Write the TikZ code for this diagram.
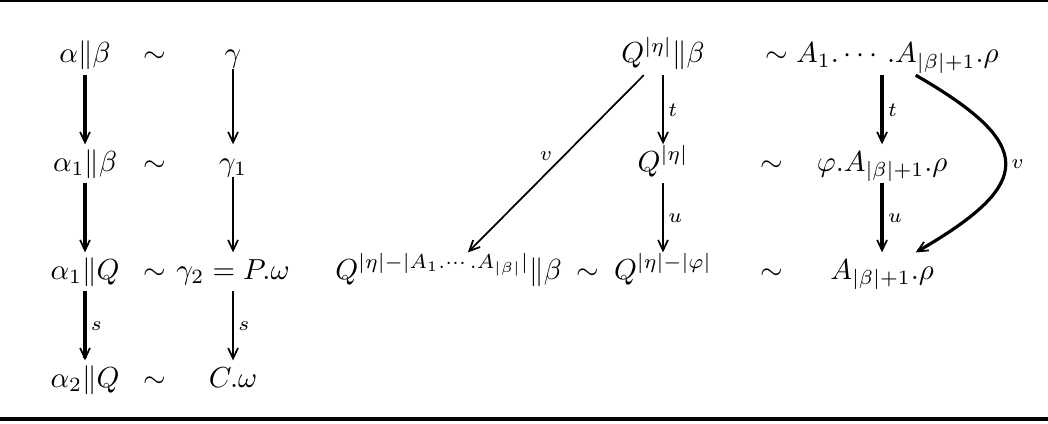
\documentclass[tikz,border=0pt]{standalone}
\usepackage{amsmath,amssymb}
\usepackage{tikz}
\usetikzlibrary{arrows.meta,positioning}

\begin{document}
\begin{tikzpicture}[>={Straight Barb[length=3.6pt,width=3.4pt,line width=0.6pt]},node distance=13.1mm,on grid,
  cell/.style={inner sep=1.5pt,text height=7.5pt,text depth=2.5pt},
  arr/.style={->,line width=0.6pt},
  heavy/.style={->,line width=1.1pt},
  lab/.style={font=\scriptsize,inner sep=1.5pt}]
  \useasboundingbox (0,0) rectangle (127.08mm,-51.41mm);
  % rules
  \draw[line width=0.7pt] (0,-0.12mm) -- (127.08mm,-0.12mm);
  \draw[line width=1.4pt] (0,-50.81mm) -- (127.08mm,-50.81mm);
  % left block
  \node[cell] (a1) at (10.31mm,-6.76mm) {$\alpha\|\beta$};
  \node[cell,right=8.49mm of a1] (s1) {$\sim$};
  \node[cell,right=9.46mm of s1] (g1) {$\gamma$};
  \node[cell,below=of a1] (a2) {$\alpha_1\|\beta$};
  \node[cell,below=of s1] (s2) {$\sim$};
  \node[cell,below=of g1] (g2) {$\gamma_1$};
  \node[cell,below=of a2] (a3) {$\alpha_1\|Q$};
  \node[cell,below=of s2] (s3) {$\sim$};
  \node[cell,below=of g2] (g3) {$\gamma_2 = P.\omega$};
  \node[cell,below=of a3] (a4) {$\alpha_2\|Q$};
  \node[cell,below=of s3] (s4) {$\sim$};
  \node[cell,below=of g3] (g4) {$C.\omega$};
  \draw[heavy] (a1) -- (a2);
  \draw[heavy] (a2) -- (a3);
  \draw[heavy] (a3) -- node[lab,right]{$s$} (a4);
  \draw[arr,shorten <=-2pt] (g1) -- (g2);
  \draw[arr,shorten <=-2pt] (g2) -- (g3);
  \draw[arr] (g3) -- node[lab,right]{$s$} (g4);
  % right block
  \node[cell,right=52.14mm of g1] (q1) {$Q^{|\eta|}\|\beta$};
  \node[cell,right=26.56mm of q1] (e1) {$\sim A_1.\cdots.A_{|\beta|+1}.\rho$};
  \node[cell,below=of q1] (q2) {$Q^{|\eta|}$};
  \node[cell,right=13.22mm of q2] (t2) {$\sim$};
  \node[cell,below=of e1] (e2) {$\varphi.A_{|\beta|+1}.\rho$};
  \node[cell,below=of q2] (q3) {$Q^{|\eta|-|\varphi|}$};
  \node[cell,left=9.09mm of q3] (r3) {$\sim$};
  \node[cell,left=26mm of q3] (p3) {$Q^{|\eta|-|A_1.\cdots.A_{|\beta|}|}\|\beta$};
  \node[cell,below=of t2] (t3) {$\sim$};
  \node[cell,below=of e2] (e3) {$A_{|\beta|+1}.\rho$};
  \draw[arr] (q1) -- node[lab,right]{$t$} (q2);
  \draw[arr] (q2) -- node[lab,right]{$u$} (q3);
  \draw[arr] (q1) -- node[lab,above left,inner sep=1pt]{$v$} (p3);
  \draw[heavy] (e1) -- node[lab,right]{$t$} (e2);
  \draw[heavy] (e2) -- node[lab,right]{$u$} (e3);
  \draw[heavy] (e1) to[out=-30,in=30,looseness=2] node[lab,right]{$v$} (e3);
\end{tikzpicture}
\end{document}
